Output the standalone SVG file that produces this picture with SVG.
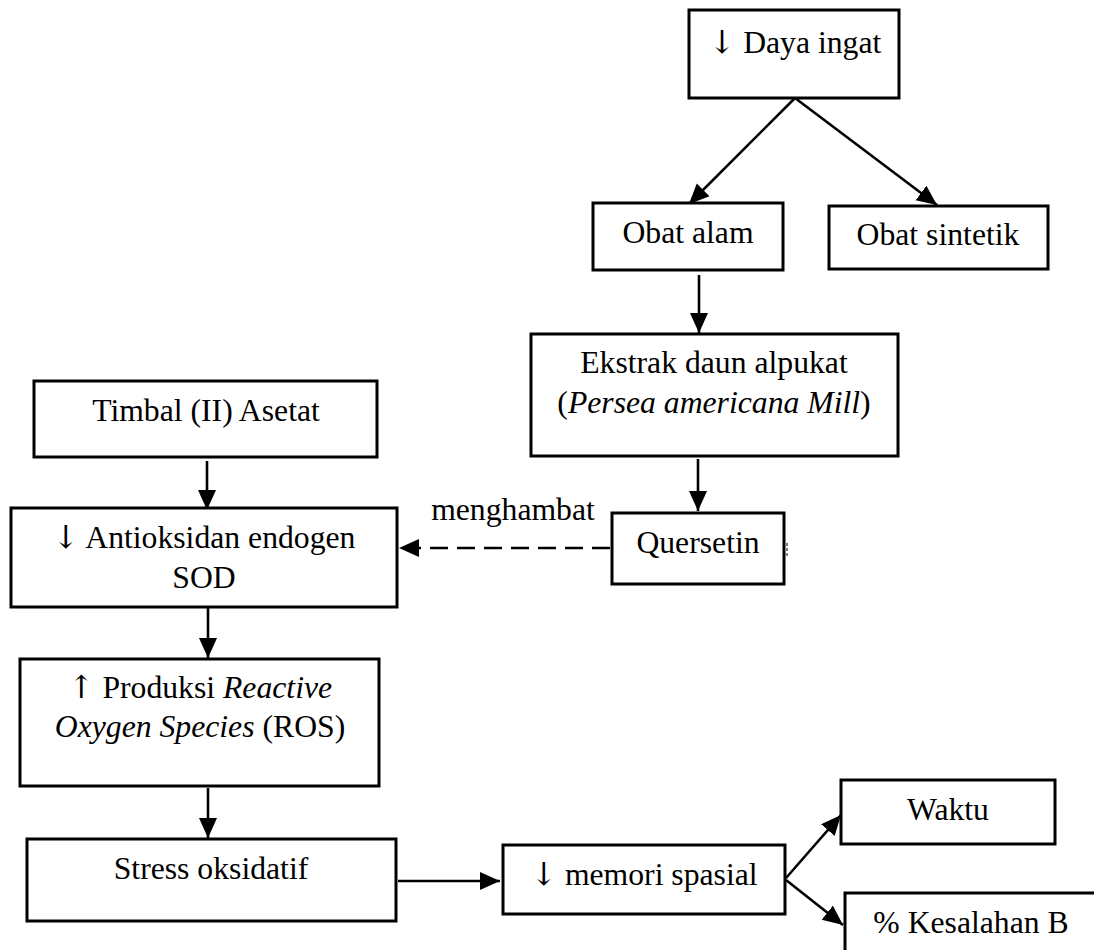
<svg xmlns="http://www.w3.org/2000/svg" width="1094" height="950" viewBox="0 0 1094 950">
<defs>
<marker id="ah" markerUnits="userSpaceOnUse" markerWidth="22" markerHeight="20" refX="20" refY="9" orient="auto">
<path d="M0,0 L20,9 L0,18 z" fill="#000"/>
</marker>
<style>
.box{fill:#fff;stroke:#000;stroke-width:3}
.t{font-family:"Liberation Serif","Times New Roman",serif;font-size:31.7px;fill:#000;text-anchor:middle}
.ar{font-family:"DejaVu Serif","DejaVu Sans",serif;fill:#000}
.c{fill:none;stroke:#000;stroke-width:2.6}
.d{fill:none;stroke:#000;stroke-width:2.6;stroke-dasharray:18 9}
</style>
</defs>
<rect width="1094" height="950" fill="#fff"/>
<g id="connectors">
<path class="c" d="M795,98 L689,204" marker-end="url(#ah)"/>
<path class="c" d="M795,98 L937,205" marker-end="url(#ah)"/>
<path class="c" d="M699,275 L699,333" marker-end="url(#ah)"/>
<path class="c" d="M698,459 L698,511" marker-end="url(#ah)"/>
<path class="d" d="M610,548 L399,548" marker-end="url(#ah)"/>
<path class="c" d="M207,461 L207,510" marker-end="url(#ah)"/>
<path class="c" d="M208,608 L208,658" marker-end="url(#ah)"/>
<path class="c" d="M208,788 L208,838" marker-end="url(#ah)"/>
<path class="c" d="M398,881 L500,881" marker-end="url(#ah)"/>
<path class="c" d="M786,878 L841,815" marker-end="url(#ah)"/>
<path class="c" d="M786,880 L843,925" marker-end="url(#ah)"/>
<path d="M787,543 L787,558" stroke="#000" stroke-width="1" stroke-dasharray="3 2"/>
<text class="t" x="513" y="520">menghambat</text>
</g>
<g id="daya-ingat">
<rect class="box" x="689" y="10" width="210" height="88"/>
<text class="t" x="795" y="53"><tspan class="ar">↓</tspan> Daya ingat</text>
</g>
<g id="obat-alam">
<rect class="box" x="593" y="203" width="190" height="67"/>
<text class="t" x="688" y="243">Obat alam</text>
</g>
<g id="obat-sintetik">
<rect class="box" x="829" y="206" width="219" height="63"/>
<text class="t" x="938" y="245">Obat sintetik</text>
</g>
<g id="ekstrak">
<rect class="box" x="531" y="334" width="367" height="122"/>
<text class="t" x="714" y="373">Ekstrak daun alpukat</text>
<text class="t" x="714" y="413">(<tspan font-style="italic">Persea americana Mill</tspan>)</text>
</g>
<g id="quersetin">
<rect class="box" x="612" y="513" width="172" height="71"/>
<text class="t" x="698" y="553">Quersetin</text>
</g>
<g id="timbal">
<rect class="box" x="34" y="381" width="343" height="76"/>
<text class="t" x="206" y="421">Timbal (II) Asetat</text>
</g>
<g id="antioksidan">
<rect class="box" x="11" y="508" width="386" height="99"/>
<text class="t" x="204" y="548"><tspan class="ar">↓</tspan> Antioksidan endogen</text>
<text class="t" x="204" y="588">SOD</text>
</g>
<g id="ros">
<rect class="box" x="20" y="659" width="359" height="127"/>
<text class="t" x="200" y="698"><tspan class="ar">↑</tspan> Produksi <tspan font-style="italic">Reactive</tspan></text>
<text class="t" x="200" y="737"><tspan font-style="italic">Oxygen Species</tspan> (ROS)</text>
</g>
<g id="stress">
<rect class="box" x="27" y="839" width="369" height="82"/>
<text class="t" x="211" y="879">Stress oksidatif</text>
</g>
<g id="memori">
<rect class="box" x="503" y="845" width="282" height="69"/>
<text class="t" x="644" y="885"><tspan class="ar">↓</tspan> memori spasial</text>
</g>
<g id="waktu">
<rect class="box" x="841" y="780" width="214" height="64"/>
<text class="t" x="948" y="820">Waktu</text>
</g>
<g id="kesalahan">
<rect class="box" x="845" y="893" width="300" height="100"/>
<text class="t" x="971" y="933">% Kesalahan B</text>
</g>
</svg>
